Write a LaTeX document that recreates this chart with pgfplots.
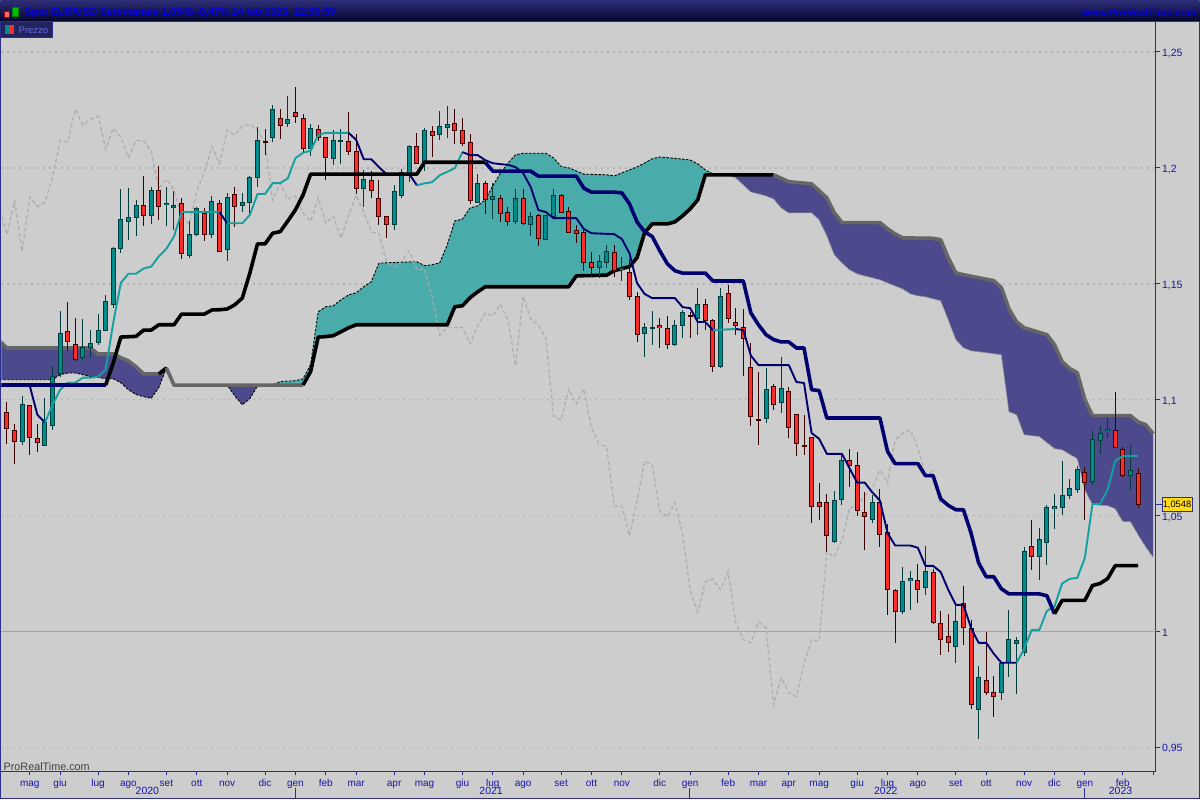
\documentclass[border=0pt]{standalone}
\usepackage{fontspec}
\setmainfont{Liberation Sans}
\usepackage{pgfplots}
\usepackage{pgfplotstable}
\pgfplotsset{compat=1.18}
\usepgfplotslibrary{fillbetween}

\definecolor{bg}{HTML}{CDCDCD}
\definecolor{upbody}{HTML}{008C8C}
\definecolor{upedge}{HTML}{003C3C}
\definecolor{dnbody}{HTML}{FF2B2B}
\definecolor{dnedge}{HTML}{3C0000}
\definecolor{cloudup}{HTML}{4AABAB}
\definecolor{clouddn}{HTML}{4C4A8C}
\definecolor{linenavy}{HTML}{00006E}
\definecolor{lineteal}{HTML}{14A0A0}
\definecolor{spangray}{HTML}{666666}
\definecolor{chikou}{HTML}{ABABAB}
\definecolor{axisblue}{HTML}{2E2E8C}
\definecolor{ticktext}{HTML}{1414B4}
\definecolor{headtop}{HTML}{2E2E78}
\definecolor{headbot}{HTML}{04042E}
\definecolor{headtext}{HTML}{0000E0}
\definecolor{tabfill}{HTML}{23235F}
\definecolor{tabtext}{HTML}{6A6AE0}
\definecolor{tag}{HTML}{FFDC14}

% weekly EUR/USD candles
\pgfplotstableread{
i o h l c
0 1.0943 1.0991 1.0807 1.0874
1 1.0869 1.0897 1.0724 1.0820
2 1.0820 1.1016 1.0806 1.0981
3 1.0973 1.0978 1.0763 1.0838
4 1.0831 1.0897 1.0773 1.0816
5 1.0803 1.1009 1.0799 1.0900
6 1.0889 1.1147 1.0868 1.1100
7 1.1113 1.1382 1.1098 1.1287
8 1.1296 1.1421 1.1208 1.1251
9 1.1238 1.1353 1.1165 1.1174
10 1.1184 1.1349 1.1165 1.1223
11 1.1223 1.1302 1.1180 1.1244
12 1.1247 1.1371 1.1237 1.1299
13 1.1299 1.1452 1.1297 1.1425
14 1.1412 1.1658 1.1396 1.1654
15 1.1652 1.1909 1.1631 1.1779
16 1.1768 1.1914 1.1690 1.1787
17 1.1787 1.1861 1.1707 1.1839
18 1.1839 1.1965 1.1750 1.1794
19 1.1796 1.1917 1.1760 1.1904
20 1.1904 1.2008 1.1776 1.1833
21 1.1840 1.1918 1.1750 1.1845
22 1.1829 1.1901 1.1734 1.1839
23 1.1848 1.1869 1.1608 1.1631
24 1.1622 1.1770 1.1613 1.1714
25 1.1712 1.1830 1.1704 1.1826
26 1.1805 1.1826 1.1686 1.1712
27 1.1712 1.1878 1.1699 1.1856
28 1.1848 1.1861 1.1635 1.1639
29 1.1648 1.1891 1.1600 1.1874
30 1.1887 1.1917 1.1743 1.1833
31 1.1839 1.1891 1.1810 1.1852
32 1.1852 1.1964 1.1800 1.1960
33 1.1960 1.2175 1.1919 1.2119
34 1.2115 1.2167 1.2056 1.2111
35 1.2132 1.2271 1.2113 1.2253
36 1.2214 1.2254 1.2125 1.2184
37 1.2192 1.2310 1.2178 1.2210
38 1.2240 1.2348 1.2192 1.2223
39 1.2214 1.2233 1.2069 1.2082
40 1.2085 1.2189 1.2049 1.2171
41 1.2167 1.2185 1.2116 1.2132
42 1.2132 1.2135 1.1948 1.2044
43 1.2040 1.2164 1.2013 1.2119
44 1.2112 1.2167 1.2017 1.2116
45 1.2115 1.2241 1.2057 1.2072
46 1.2072 1.2146 1.1889 1.1912
47 1.1912 1.1991 1.1833 1.1951
48 1.1947 1.1986 1.1872 1.1904
49 1.1869 1.1948 1.1755 1.1792
50 1.1792 1.1793 1.1699 1.1757
51 1.1757 1.1927 1.1734 1.1899
52 1.1880 1.1996 1.1868 1.1981
53 1.1968 1.2099 1.1938 1.2093
54 1.2093 1.2151 1.2016 1.2018
55 1.2029 1.2172 1.1986 1.2162
56 1.2158 1.2180 1.2049 1.2141
57 1.2145 1.2244 1.2122 1.2180
58 1.2175 1.2266 1.2130 1.2188
59 1.2192 1.2254 1.2102 1.2162
60 1.2162 1.2214 1.2096 1.2106
61 1.2111 1.2145 1.1843 1.1861
62 1.1852 1.1973 1.1848 1.1934
63 1.1934 1.1943 1.1803 1.1865
64 1.1865 1.1934 1.1779 1.1878
65 1.1869 1.1882 1.1768 1.1805
66 1.1809 1.1830 1.1747 1.1770
67 1.1768 1.1908 1.1758 1.1869
68 1.1869 1.1908 1.1755 1.1761
69 1.1757 1.1809 1.1704 1.1792
70 1.1796 1.1800 1.1661 1.1697
71 1.1693 1.1797 1.1692 1.1796
72 1.1792 1.1908 1.1787 1.1882
73 1.1882 1.1887 1.1805 1.1809
74 1.1813 1.1832 1.1722 1.1723
75 1.1731 1.1753 1.1678 1.1718
76 1.1723 1.1741 1.1557 1.1593
77 1.1593 1.1637 1.1529 1.1572
78 1.1572 1.1624 1.1523 1.1598
79 1.1593 1.1667 1.1568 1.1641
80 1.1637 1.1667 1.1529 1.1559
81 1.1560 1.1615 1.1510 1.1565
82 1.1550 1.1606 1.1428 1.1443
83 1.1443 1.1464 1.1247 1.1279
84 1.1287 1.1331 1.1182 1.1313
85 1.1306 1.1382 1.1234 1.1310
86 1.1318 1.1352 1.1225 1.1313
87 1.1305 1.1361 1.1217 1.1240
88 1.1240 1.1343 1.1230 1.1318
89 1.1318 1.1387 1.1268 1.1374
90 1.1365 1.1378 1.1268 1.1361
91 1.1352 1.1481 1.1281 1.1412
92 1.1412 1.1434 1.1299 1.1343
93 1.1343 1.1348 1.1118 1.1145
94 1.1141 1.1481 1.1137 1.1447
95 1.1460 1.1494 1.1331 1.1348
96 1.1335 1.1395 1.1279 1.1322
97 1.1313 1.1391 1.1103 1.1266
98 1.1137 1.1244 1.0885 1.0928
99 1.0916 1.1119 1.0803 1.0912
100 1.0919 1.1137 1.0900 1.1046
101 1.1059 1.1068 1.0957 1.0981
102 1.0986 1.1184 1.0941 1.1046
103 1.1037 1.1055 1.0833 1.0878
104 1.0934 1.0935 1.0756 1.0809
105 1.0801 1.0934 1.0762 1.0797
106 1.0835 1.0836 1.0468 1.0541
107 1.0555 1.0641 1.0480 1.0541
108 1.0555 1.0593 1.0345 1.0412
109 1.0389 1.0608 1.0382 1.0563
110 1.0571 1.0771 1.0547 1.0736
111 1.0736 1.0787 1.0625 1.0718
112 1.0718 1.0775 1.0500 1.0520
113 1.0512 1.0602 1.0353 1.0494
114 1.0481 1.0587 1.0470 1.0555
115 1.0555 1.0615 1.0363 1.0420
116 1.0425 1.0465 1.0070 1.0180
117 1.0175 1.0184 0.9951 1.0085
118 1.0085 1.0279 1.0075 1.0214
119 1.0219 1.0259 1.0092 1.0227
120 1.0219 1.0292 1.0124 1.0180
121 1.0188 1.0369 1.0158 1.0257
122 1.0253 1.0270 1.0033 1.0037
123 1.0033 1.0089 0.9900 0.9964
124 0.9977 1.0076 0.9912 0.9951
125 0.9934 1.0115 0.9865 1.0042
126 1.0119 1.0197 0.9943 1.0016
127 1.0012 1.0050 0.9664 0.9684
128 0.9663 0.9852 0.9538 0.9800
129 0.9788 0.9999 0.9727 0.9736
130 0.9736 0.9809 0.9632 0.9719
131 0.9736 0.9862 0.9706 0.9861
132 0.9865 1.0094 0.9805 0.9964
133 0.9947 0.9977 0.9731 0.9960
134 0.9908 1.0365 0.9895 1.0344
135 1.0365 1.0483 1.0267 1.0322
136 1.0322 1.0447 1.0224 1.0395
137 1.0382 1.0547 1.0287 1.0533
138 1.0529 1.0595 1.0443 1.0539
139 1.0533 1.0737 1.0503 1.0585
140 1.0587 1.0658 1.0572 1.0615
141 1.0611 1.0714 1.0598 1.0697
142 1.0684 1.0710 1.0481 1.0641
143 1.0645 1.0865 1.0632 1.0826
144 1.0826 1.0887 1.0766 1.0856
145 1.0865 1.0921 1.0835 1.0870
146 1.0865 1.1033 1.0791 1.0792
147 1.0787 1.0796 1.0667 1.0671
148 1.0671 1.0805 1.0611 1.0693
149 1.0680 1.0706 1.0533 1.0548
}\candles

% conversion line
\pgfplotstableread{
i p
-1 1.1060
3 1.1060
4 1.0935
5 1.0901
6 1.0978
7 1.1043
8 1.1073
9 1.1073
10 1.1095
11 1.1095
12 1.1099
13 1.1129
14 1.1332
15 1.1504
16 1.1543
17 1.1543
18 1.1566
19 1.1574
20 1.1618
21 1.1651
22 1.1704
23 1.1809
28 1.1809
29 1.1761
31 1.1761
32 1.1797
33 1.1887
34 1.1887
35 1.1934
36 1.1934
37 1.1955
38 1.2042
39 1.2065
40 1.2074
41 1.2142
42 1.2151
45 1.2151
46 1.2121
47 1.2037
48 1.2037
49 1.2003
50 1.1973
53 1.1973
54 1.1925
55 1.1933
56 1.1938
57 1.1968
58 1.1983
59 1.1999
60 1.2068
61 1.2055
62 1.2055
63 1.2033
64 1.2020
65 1.2016
66 1.2013
67 1.2003
68 1.1977
69 1.1917
70 1.1818
71 1.1809
72 1.1783
75 1.1783
76 1.1736
77 1.1718
80 1.1714
81 1.1693
82 1.1632
83 1.1503
84 1.1456
85 1.1438
88 1.1438
89 1.1399
90 1.1395
91 1.1335
92 1.1335
93 1.1300
96 1.1305
97 1.1300
98 1.1190
99 1.1149
103 1.1149
104 1.1076
105 1.1072
106 1.0856
107 1.0831
108 1.0766
110 1.0766
112 1.0642
113 1.0642
114 1.0600
115 1.0565
116 1.0425
117 1.0371
119 1.0371
120 1.0361
121 1.0283
122 1.0283
123 1.0257
124 1.0180
125 1.0115
126 1.0115
127 1.0016
128 0.9951
129 0.9951
130 0.9904
131 0.9865
133 0.9865
134 0.9925
135 1.0007
136 1.0007
137 1.0089
138 1.0108
139 1.0207
140 1.0227
141 1.0231
142 1.0318
143 1.0550
144 1.0550
145 1.0611
146 1.0736
147 1.0757
149 1.0757
}\tenkan

% base line
\pgfplotstableread{
i p
-1 1.1063
13 1.1063
14 1.1159
15 1.1270
17 1.1273
18 1.1300
19 1.1300
20 1.1323
22 1.1323
23 1.1369
26 1.1369
27 1.1387
28 1.1388
29 1.1391
30 1.1409
31 1.1438
32 1.1547
33 1.1672
34 1.1672
35 1.1718
36 1.1725
37 1.1771
38 1.1819
39 1.1883
40 1.1973
54 1.1973
55 1.2024
63 1.2024
64 1.1986
69 1.1986
70 1.1964
75 1.1964
76 1.1912
77 1.1895
80 1.1895
81 1.1892
82 1.1845
83 1.1767
84 1.1724
85 1.1704
86 1.1642
87 1.1586
88 1.1556
89 1.1546
92 1.1546
93 1.1512
97 1.1512
98 1.1374
99 1.1323
100 1.1280
101 1.1259
102 1.1249
103 1.1249
104 1.1223
105 1.1223
106 1.1043
107 1.1039
108 1.0921
115 1.0921
116 1.0777
117 1.0724
120 1.0724
121 1.0672
122 1.0672
123 1.0572
124 1.0544
125 1.0525
126 1.0525
127 1.0425
128 1.0296
129 1.0236
130 1.0236
131 1.0184
132 1.0162
136 1.0162
137 1.0154
138 1.0076
139 1.0134
142 1.0134
143 1.0198
144 1.0207
145 1.0228
146 1.0284
149 1.0284
}\kijun

% leading span A
\pgfplotstableread{
i p
-1 1.1086
6 1.1086
7 1.1108
8 1.1115
9 1.1115
10 1.1108
11 1.1099
12 1.1097
13 1.1090
14 1.1090
15 1.1073
16 1.1043
17 1.1022
18 1.1013
19 1.1006
20 1.1052
21 1.1137
22 1.1063
29 1.1063
30 1.1017
31 1.0978
32 1.1004
33 1.1060
34 1.1063
35 1.1063
36 1.1078
37 1.1080
38 1.1082
39 1.1090
40 1.1151
41 1.1379
42 1.1401
43 1.1405
44 1.1431
45 1.1452
46 1.1461
47 1.1487
48 1.1509
49 1.1589
52 1.1593
54 1.1595
55 1.1578
56 1.1582
57 1.1590
58 1.1668
59 1.1771
60 1.1779
61 1.1827
62 1.1836
63 1.1862
64 1.1922
65 1.1977
66 1.2020
67 1.2056
68 1.2063
71 1.2063
72 1.2043
73 1.2006
74 1.2000
75 1.1987
76 1.1973
79 1.1970
80 1.1965
81 1.1978
82 1.1991
83 1.2004
84 1.2021
85 1.2039
86 1.2047
88 1.2041
90 1.2034
91 1.2017
92 1.1991
93 1.1974
94 1.1970
95 1.1968
96 1.1957
97 1.1927
98 1.1896
99 1.1888
100 1.1879
101 1.1866
102 1.1827
103 1.1806
106 1.1806
107 1.1776
108 1.1707
109 1.1625
110 1.1590
111 1.1560
112 1.1543
113 1.1534
114 1.1526
115 1.1517
116 1.1504
117 1.1491
118 1.1478
119 1.1457
120 1.1448
121 1.1444
122 1.1435
123 1.1427
124 1.1345
125 1.1259
126 1.1224
127 1.1211
128 1.1207
131 1.1194
132 1.0948
133 1.0935
134 1.0849
136 1.0841
138 1.0789
139 1.0784
141 1.0746
142 1.0612
143 1.0547
145 1.0543
146 1.0530
147 1.0474
148 1.0474
149 1.0418
150 1.0366
151 1.0319
}\spanA

% leading span B
\pgfplotstableread{
i p
-1 1.1254
0 1.1223
11 1.1223
12 1.1197
14 1.1197
15 1.1181
16 1.1167
17 1.1142
18 1.1111
20 1.1111
21 1.1137
22 1.1063
39 1.1063
40 1.1121
41 1.1270
42 1.1272
43 1.1276
44 1.1293
45 1.1310
46 1.1323
58 1.1323
59 1.1401
60 1.1405
61 1.1440
62 1.1465
63 1.1487
74 1.1487
75 1.1534
79 1.1537
80 1.1556
81 1.1565
82 1.1574
83 1.1612
84 1.1720
85 1.1758
87 1.1758
88 1.1767
89 1.1793
90 1.1823
91 1.1862
92 1.1970
101 1.1970
103 1.1940
106 1.1931
108 1.1871
109 1.1806
110 1.1764
115 1.1764
116 1.1737
117 1.1715
118 1.1698
122 1.1696
123 1.1690
124 1.1612
125 1.1547
126 1.1539
130 1.1513
131 1.1483
132 1.1392
133 1.1336
134 1.1310
137 1.1280
138 1.1237
139 1.1164
140 1.1134
141 1.1116
142 1.1000
143 1.0931
148 1.0931
149 1.0904
150 1.0892
151 1.0853
}\spanB

\pgfdeclarelayer{page}
\pgfplotsset{
  layers/withpage/.define layer set={page,axis background,axis grid,axis ticks,axis lines,axis tick labels,pre main,main,axis descriptions,axis foreground}{
    grid style={/pgfplots/on layer=axis grid},
    tick style={/pgfplots/on layer=axis ticks},
    axis line style={/pgfplots/on layer=axis lines},
    ticklabel style={/pgfplots/on layer=axis tick labels},
  },
  wick/.style={draw=none, mark=none, forget plot,
    error bars/y dir=both, error bars/y explicit, error bars/error mark=none,
    error bars/error bar style={draw=#1, line width=1bp, solid}},
  body/.style 2 args={draw=none, mark=none, forget plot,
    error bars/y dir=both, error bars/y explicit, error bars/error mark=none,
    error bars/error bar style={draw=#1, line width=#2, solid, line cap=butt}},
  isup/.style={restrict expr to domain={\thisrow{c}-\thisrow{o}}{0:1}},
  isdn/.style={restrict expr to domain={\thisrow{c}-\thisrow{o}}{-1:-0.00001}},
  conv/.style={draw=#1, line width=1.9bp, line join=round, forget plot},
  base/.style={draw=#1, line width=3.6bp, line join=round, forget plot},
}

\begin{document}
\begin{tikzpicture}[x=1bp,y=1bp]
\begin{axis}[
  set layers=withpage,
  at={(1bp,28bp)}, anchor=south west,
  scale only axis, width=1155bp, height=750bp,
  xmin=-0.724, xmax=151.31, ymin=0.93966, ymax=1.26293,
  axis x line*=bottom, axis y line*=right,
  axis line style={draw=axisblue, line width=1bp, -},
  tick align=outside, major tick length=4bp,
  tick style={draw=axisblue, line width=1bp},
  ytick={0.95,1,1.05,1.1,1.15,1.2,1.25},
  yticklabels={{0,95},1,{1,05},{1,1},{1,15},{1,2},{1,25}},
  yticklabel style={font=\fontsize{10.5bp}{12bp}\selectfont, text=ticktext, anchor=west, xshift=-1bp, yshift=-1.5bp},
  xtick={3,7,12,16,21,25,29,34,38,42,46,51,55,60,64,68,73,77,81,86,90,95,99,103,107,112,116,120,125,129,134,138,142,147,151},
  xticklabels={mag,giu,lug,ago,set,ott,nov,dic,gen,feb,mar,apr,mag,giu,lug,ago,set,ott,nov,dic,gen,feb,mar,apr,mag,giu,lug,ago,set,ott,nov,dic,gen,feb,{}},
  xticklabel style={font=\fontsize{10bp}{11bp}\selectfont, text=ticktext, yshift=-1bp, text height=7bp, text depth=2bp},
  ymajorgrids,
  grid style={draw=black!30, line width=1.5bp, dash pattern=on 2bp off 4bp},
]

% the cloud
\addplot[name path=sa, draw=none, forget plot] table[x=i, y=p] {\spanA};
\addplot[name path=sb, draw=none, forget plot] table[x=i, y=p] {\spanB};
\addplot[fill=clouddn, draw=none] fill between[of=sa and sb, soft clip={domain=-1:21}];
\addplot[fill=clouddn, draw=none] fill between[of=sa and sb, soft clip={domain=29:34}];
\addplot[fill=cloudup, draw=none] fill between[of=sa and sb, soft clip={domain=34:94}];
\addplot[fill=clouddn, draw=none] fill between[of=sa and sb, soft clip={domain=94:151}];

% horizontal line at parity
\addplot[draw=black!36, line width=1bp, forget plot] coordinates {(-1,1) (152,1)};

% span A edge
\addplot[draw=black, line width=0.9bp, dash pattern=on 2.5bp off 1.5bp, restrict x to domain=-1:94] table[x=i, y=p] {\spanA};
\addplot[draw=black!45, line width=0.8bp, dash pattern=on 1.5bp off 1bp, restrict x to domain=94:151] table[x=i, y=p] {\spanA};

% lagging line: closes moved back 26 weeks
\addplot[draw=chikou, line width=1.3bp, dash pattern=on 4bp off 2.5bp, opacity=.9] table[x expr=\thisrow{i}-26, y=c] {\candles};

% span B edge
\addplot[base=spangray, restrict x to domain=-1:20] table[x=i, y=p] {\spanB};
\addplot[base=black, restrict x to domain=20:21] table[x=i, y=p] {\spanB};
\addplot[base=spangray, restrict x to domain=21:39] table[x=i, y=p] {\spanB};
\addplot[base=black, restrict x to domain=39:101] table[x=i, y=p] {\spanB};
\addplot[base=spangray, restrict x to domain=101:151] table[x=i, y=p] {\spanB};

% candles
\addplot[wick=upedge, isup] table[x=i, y expr=(\thisrow{h}+\thisrow{l})/2, y error expr=(\thisrow{h}-\thisrow{l})/2] {\candles};
\addplot[wick=dnedge, isdn] table[x=i, y expr=(\thisrow{h}+\thisrow{l})/2, y error expr=(\thisrow{h}-\thisrow{l})/2] {\candles};
\addplot[body={upedge}{5bp}, isup] table[x=i, y expr=(\thisrow{o}+\thisrow{c})/2, y error expr=abs(\thisrow{c}-\thisrow{o})/2+0.000215] {\candles};
\addplot[body={dnedge}{5bp}, isdn] table[x=i, y expr=(\thisrow{o}+\thisrow{c})/2, y error expr=abs(\thisrow{c}-\thisrow{o})/2+0.000215] {\candles};
\addplot[body={upbody}{3bp}, isup] table[x=i, y expr=(\thisrow{o}+\thisrow{c})/2, y error expr={max(abs(\thisrow{c}-\thisrow{o})/2-0.000215,0)}] {\candles};
\addplot[body={dnbody}{3bp}, isdn] table[x=i, y expr=(\thisrow{o}+\thisrow{c})/2, y error expr={max(abs(\thisrow{c}-\thisrow{o})/2-0.000215,0)}] {\candles};

% conversion line, teal below price, navy above
\addplot[conv=linenavy, restrict x to domain=-1:5] table[x=i, y=p] {\tenkan};
\addplot[conv=lineteal, restrict x to domain=5:28] table[x=i, y=p] {\tenkan};
\addplot[conv=linenavy, restrict x to domain=28:29] table[x=i, y=p] {\tenkan};
\addplot[conv=lineteal, restrict x to domain=29:45] table[x=i, y=p] {\tenkan};
\addplot[conv=linenavy, restrict x to domain=45:54] table[x=i, y=p] {\tenkan};
\addplot[conv=lineteal, restrict x to domain=54:60] table[x=i, y=p] {\tenkan};
\addplot[conv=linenavy, restrict x to domain=60:93] table[x=i, y=p] {\tenkan};
\addplot[conv=lineteal, restrict x to domain=93:96] table[x=i, y=p] {\tenkan};
\addplot[conv=linenavy, restrict x to domain=96:133] table[x=i, y=p] {\tenkan};
\addplot[conv=lineteal, restrict x to domain=133:149] table[x=i, y=p] {\tenkan};

% base line, black below price, navy above
\addplot[base=linenavy, restrict x to domain=-1:13] table[x=i, y=p] {\kijun};
\addplot[base=black, restrict x to domain=13:63] table[x=i, y=p] {\kijun};
\addplot[base=linenavy, restrict x to domain=63:138] table[x=i, y=p] {\kijun};
\addplot[base=black, restrict x to domain=138:149] table[x=i, y=p] {\kijun};
\end{axis}

\begin{pgfonlayer}{page}
\fill[bg] (0,0) rectangle (1200,800);
\end{pgfonlayer}

% frame, header and the rest of the window
\shade[top color=headtop, bottom color=headbot] (0,778.5) rectangle (1200,800);
\draw[axisblue, line width=1bp] (0,778) -- (1200,778);
\draw[axisblue, line width=1bp] (0.5,0) -- (0.5,778) (1199.5,0) -- (1199.5,778) (0,0.5) -- (1200,0.5);

% icon
\draw[dnedge] (6,781) -- (6,791);
\fill[red!60, draw=red!70!black] (3.5,783) rectangle (8.5,789);
\draw[green!40!black] (14.5,781) -- (14.5,796);
\fill[green!75!black, draw=green!50!black] (11.5,784) rectangle (17.5,793);
\node[anchor=west, inner sep=0, text=headtext] at (24,787.5) {\fontsize{10.4bp}{11bp}\selectfont\bfseries Spot EUR/USD Settimanale 1,0548 -0,47\% 24 feb 2023, 22:59:59};
\node[anchor=east, inner sep=0, text=headtext] at (1197,787.5) {\fontsize{10.4bp}{11bp}\selectfont\bfseries www.ProRealTime.com};

% price tab
\filldraw[fill=tabfill, draw=axisblue, line width=1bp] (0.5,762.5) rectangle (52,778);
\fill[upbody] (5,766) rectangle (9.5,775);
\fill[dnbody] (9.5,766) rectangle (14,775);
\node[anchor=west, inner sep=0, text=tabtext] at (18,770) {\fontsize{9.5bp}{11bp}\selectfont Prezzo};

\node[anchor=west, inner sep=0, text=black!75] at (3,33) {\fontsize{10.8bp}{11bp}\selectfont ProRealTime.com};

% years and their separators
\node[text=ticktext, inner sep=0] at (147,8) {\fontsize{10.5bp}{12bp}\selectfont 2020};
\node[text=ticktext, inner sep=0] at (491,8) {\fontsize{10.5bp}{12bp}\selectfont 2021};
\node[text=ticktext, inner sep=0] at (886,8) {\fontsize{10.5bp}{12bp}\selectfont 2022};
\node[text=ticktext, inner sep=0] at (1121,8) {\fontsize{10.5bp}{12bp}\selectfont 2023};
\draw[axisblue, line width=1bp] (295,1) -- (295,11) (690,1) -- (690,11) (1085,1) -- (1085,11);

% last price tag
\draw[axisblue, line width=1bp] (1156,295) -- (1163,295);
\node[fill=tag, draw=axisblue, line width=1bp, inner sep=0, minimum width=30bp, minimum height=14bp, anchor=west] at (1162,295) {\fontsize{9.3bp}{12bp}\selectfont 1,0548};
\end{tikzpicture}
\end{document}
